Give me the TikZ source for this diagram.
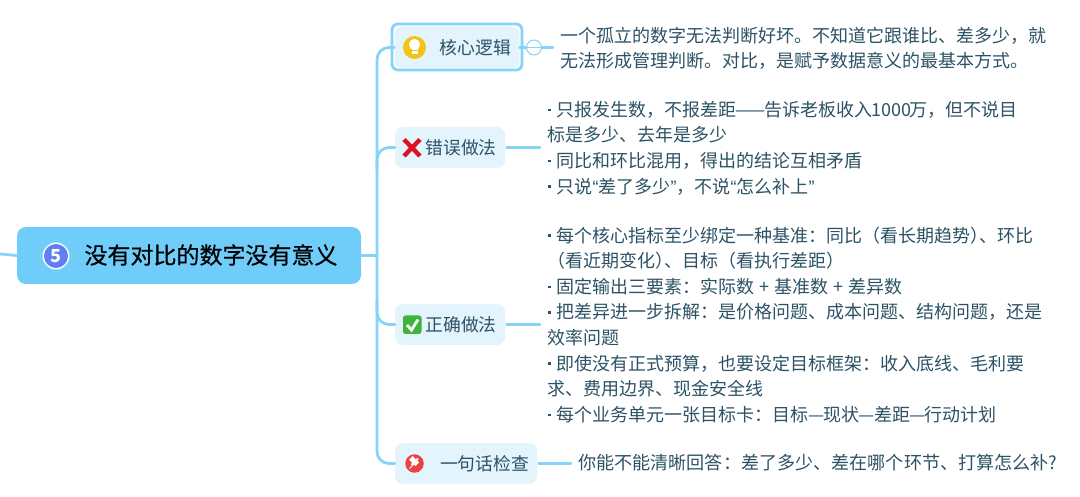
\documentclass[tikz,border=0pt]{standalone}
\usepackage{fontspec}
\setmainfont{Noto Sans CJK SC}
\newfontfamily\latinf{Liberation Sans}
\newfontfamily\rootf[FakeBold=0.5]{Noto Sans CJK SC}
\newcommand{\bul}{\makebox[9.5pt][l]{\kern1.2pt\raisebox{5.2pt}{\rule{2.6pt}{2.6pt}}}}
\newcommand{\qopen}{{\latinf “}}
\newcommand{\qclose}{{\latinf ”}}
\newcommand{\dashk}{\kern-0.7pt—\kern-0.7pt}
\definecolor{branch}{HTML}{85D3F7}
\definecolor{rootfill}{HTML}{70CDFA}
\definecolor{subfill}{HTML}{E3F4FD}
\definecolor{txt}{HTML}{2C5266}
\definecolor{badgeblue}{HTML}{5F7FF2}
\definecolor{bulby}{HTML}{F3C316}
\definecolor{crossred}{HTML}{DE1220}
\definecolor{checkgreen}{HTML}{3DB53A}
\definecolor{pinred}{HTML}{EC4242}
\tikzset{
  link/.style={draw=branch,line width=2.8pt,line cap=round},
  topicbox/.style={fill=subfill,rounded corners=8pt,inner sep=0pt},
  topiclabel/.style={text=txt,font=\fontsize{17.8}{20}\selectfont},
  leaftext/.style={anchor=north west,inner sep=0pt,align=left,text=txt,font=\fontsize{18}{25.6}\selectfont},
}
\begin{document}
\begin{tikzpicture}[x=1pt,y=-1pt]
\useasboundingbox (0,0) rectangle (1080,497);
% root
\node[fill=rootfill,rounded corners=9pt,minimum width=344pt,minimum height=57pt,inner sep=0pt] (root) at (189,255.5) {};
\node[font=\fontsize{23}{26}\rootf,text=black,anchor=center] (roottext) at (211,255) {没有对比的数字没有意义};
\node[circle,fill=white,minimum size=27pt,inner sep=0pt] (badgering) at (56,256) {};
\node[circle,fill=badgeblue,minimum size=24pt,inner sep=0pt,text=white,font=\fontsize{18}{20}\selectfont\bfseries] (badge) at (56,256) {5};
\coordinate (incoming) at (0,254);
\draw[link] (incoming) -- (root.west);
% topic boxes
\node[topicbox,minimum width=125pt,minimum height=42pt] (t1) at (457,47.5) {};
\draw[draw=branch,line width=2.8pt,rounded corners=6pt] (392,24) rectangle (522,70);
\node[topicbox,minimum width=110pt,minimum height=41pt] (t2) at (450,147.5) {};
\node[topicbox,minimum width=110pt,minimum height=41pt] (t3) at (450,324.5) {};
\node[topicbox,minimum width=142pt,minimum height=41pt] (t4) at (466,463.5) {};
\node[topiclabel] (l1) at (475.5,47.5) {核心逻辑};
\node[topiclabel] (l2) at (461,147.5) {错误做法};
\node[topiclabel] (l3) at (461,324.5) {正确做法};
\node[topiclabel] (l4) at (484.5,463.5) {一句话检查};
% trunk
\coordinate (hub) at (377,255.5);
\draw[link] (root.east) -- (hub);
\draw[link,rounded corners=12pt] (t1.west) -- (377,47.5) -- (hub);
\draw[link,rounded corners=12pt] (t2.west) -- (377,147.5) -- (377,170);
\draw[link,rounded corners=12pt] (t3.west) -- (377,324.5) -- (hub);
\draw[link,rounded corners=12pt] (t4.west) -- (377,463.5) -- (377,300);
% leaves
\node[leaftext,anchor=west,font=\fontsize{18}{25.5}\selectfont] (d1) at (560,48.5) {一个孤立的数字无法判断好坏。不知道它跟谁比、差多少，就\\无法形成管理判断。对比，是赋予数据意义的最基本方式。};
\node[leaftext] (d2) at (547,101) {\bul 只报发生数，不报差距\kern-1pt——\kern-1pt告诉老板收入\kern-1pt1000\kern-2pt万，但不说目\\标是多少、去年是多少\\\bul 同比和环比混用，得出的结论互相矛盾\\\bul 只说\qopen{}差了多少\qclose{}，不说\qopen{}怎么补上\qclose{}};
\node[leaftext] (d3) at (547,226.5) {\bul 每个核心指标至少绑定一种基准：同比（看长期趋势）\kern-9pt、环比\\（看近期变化）\kern-9pt、目标（看执行差距）\\\bul 固定输出三要素：实际数\kern1pt{} + \kern1pt{}基准数\kern1pt{} + \kern1pt{}差异数\\\bul 把差异进一步拆解：是价格问题、成本问题、结构问题，还是\\效率问题\\\bul 即使没有正式预算，也要设定目标框架：收入底线、毛利要\\求、费用边界、现金安全线\\\bul 每个业务单元一张目标卡：目标\dashk{}现状\dashk{}差距\dashk{}行动计划};
\node[leaftext,anchor=west,font=\fontsize{18.1}{25}\selectfont] (d4) at (578,463) {你能不能清晰回答：差了多少、差在哪个环节、打算怎么补?};
% connectors to leaves
\node[circle,draw=branch,line width=1pt,fill=white,minimum size=15pt,inner sep=0pt] (fold) at (534,47.5) {};
\draw[draw=branch,line width=1pt] (fold.west) -- (fold.east);
\coordinate (e1) at (553,47.5);
\coordinate (e2) at (540,147.5);
\coordinate (e3) at (540,324.5);
\coordinate (e4) at (571,463.5);
\draw[link] (t1.east) -- (fold.west);
\draw[link] (fold.east) -- (e1);
\draw[link] (t2.east) ++(1.5,0) -- (e2);
\draw[link] (t3.east) ++(1.5,0) -- (e3);
\draw[link] (t4.east) ++(1.5,0) -- (e4);
% bulb icon
\node[circle,fill=bulby,minimum size=23pt,inner sep=0pt] (bulb) at (414.5,47.5) {};
\fill[white] (414.5,44.5) circle (5.6pt);
\fill[white] (411.5,46) rectangle (417.5,54);
\fill[bulby] (411.5,50.4) rectangle (417.5,51.1);
% cross icon
\draw[draw=crossred,line width=4.4pt] (404,139.5) -- (420,156) (420,139.5) -- (404,156);
% check icon
\fill[checkgreen,rounded corners=2.5pt] (403,315.5) rectangle (421.5,334);
\draw[white,line width=2.8pt] (407,325) -- (411.5,330) -- (418,319.5);
% pin icon
\node[circle,fill=pinred,minimum size=18.5pt,inner sep=0pt] (pin) at (414.5,463.5) {};
\fill[white,rotate around={45:(415.5,462.5)}] (413,456) rectangle (418,465);
\fill[white,rotate around={45:(415.5,462.5)}] (411,460.5) rectangle (420,462.5);
\draw[white,line width=1pt] (414,464) -- (409.5,468.5);
\end{tikzpicture}
\end{document}
